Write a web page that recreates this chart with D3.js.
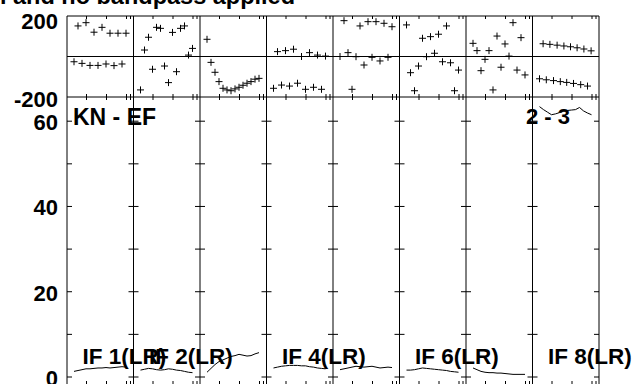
<!DOCTYPE html>
<html>
<head>
<meta charset="utf-8">
<script src="https://cdn.jsdelivr.net/npm/d3@7"></script>
<style>
  html, body { margin: 0; padding: 0; background: #fff; }
  svg { display: block; }
  text { font-family: "Liberation Sans", Arial, Helvetica, sans-serif; font-weight: bold; fill: #000; }
</style>
</head>
<body>
<svg id="chart" width="636" height="384"></svg>
<script>
// ---- data -------------------------------------------------------------
const titleText = "l and no bandpass applied";
const baselineLeft = "KN - EF";
const baselineRight = "2 - 3";
const ifLabels = ["IF 1(LR)", "IF 2(LR)", "IF 3(LR)", "IF 4(LR)", "IF 5(LR)", "IF 6(LR)", "IF 7(LR)", "IF 8(LR)"];
const labelledIFs = [0, 1, 3, 5, 7];

const phaseTickLabels = [200, -200];
const ampTickValues = [0, 10, 20, 30, 40, 50, 60];
const ampTickLabels = [0, 20, 40, 60];
const chanTickValues = [5, 10, 15, 16];

// channel numbers shared by the spectra
const channels = [2, 3, 4, 5, 6, 7, 8, 9, 10, 11, 12, 13, 14, 15];

// phase (degrees) per channel, one list per IF
const phaseIF1 = [-26, 151, -34, 167, -44, 120, -44, 144, -37, 115, -45, 115, -37, 115];
const phaseIF2 = [-165, 32, 95, -63, 144, 139, -47, -129, 119, -75, 139, 151, 7, 40];
const phaseIF3 = [85, -29, -78, -124, -157, -165, -169, -160, -152, -142, -132, -124, -112, -108];
const phaseIF4 = [-157, 24, -141, 29, -146, 36, -132, 0, -162, 19, -152, 7, -162, 2];
const phaseIF5 = [0, 177, 19, -162, -1, 151, -42, 172, -4, 172, -22, 164, -4, 147];
const phaseIF6 = [156, -80, -169, -47, 90, -1, 98, 16, 110, -26, 151, -31, -169, -67];
const phaseIF7 = [65, 29, -70, -14, 29, -165, 101, -53, 62, 2, 167, -67, 93, -91];
// IF 8 is sampled on its own channel grid
const channelsIF8 = [2, 2.9, 3.7, 4.6, 5.5, 6.4, 7.2, 8.1, 8.8, 9.75, 10.5, 11.4, 12.3, 13.1, 14, 14.9];
const phaseIF8 = [-110, 63, -115, 60, -119, 56, -124, 52, -128, 48, -133, 43, -139, 37, -146, 28];

// amplitude per channel, one list per IF
const ampIF1 = [1.2, 1.4, 1.6, 1.8, 1.8, 1.9, 2.0, 2.0, 2.1, 2.0, 2.1, 2.2, 2.3, 2.2];
const ampIF2 = [1.5, 1.7, 1.9, 1.8, 1.6, 1.5, 1.6, 1.8, 1.7, 1.5, 1.4, 1.2, 1.0, 0.9];
const ampIF3 = [1.0, 1.9, 2.8, 3.5, 3.9, 4.3, 4.7, 4.9, 5.2, 5.0, 4.8, 4.9, 5.3, 5.6];
const ampIF4 = [2.0, 2.2, 2.4, 2.5, 2.6, 2.6, 2.6, 2.5, 2.5, 2.3, 2.2, 2.0, 1.9, 1.8];
const ampIF5 = [1.6, 1.8, 2.0, 2.2, 2.4, 2.3, 2.2, 2.3, 2.4, 2.2, 2.0, 2.1, 2.2, 2.1];
const ampIF6 = [1.5, 1.5, 1.6, 1.8, 2.0, 1.9, 1.8, 1.7, 1.6, 1.5, 1.4, 1.2, 1.1, 1.0];
const ampIF7 = [2.0, 1.6, 1.2, 1.0, 0.9, 0.9, 0.8, 0.8, 0.7, 0.6, 0.5, 0.5, 0.5, 0.5];
const ampIF8 = [63.3, 62.6, 62.0, 61.4, 61.6, 61.9, 62.2, 62.4, 62.5, 62.6, 63.1, 62.3, 61.8, 61.4];

const phaseSets = [phaseIF1, phaseIF2, phaseIF3, phaseIF4, phaseIF5, phaseIF6, phaseIF7, phaseIF8];
const ampSets = [ampIF1, ampIF2, ampIF3, ampIF4, ampIF5, ampIF6, ampIF7, ampIF8];

// ---- layout -----------------------------------------------------------
const plotLeft = 67, colW = 66.5, nIF = ifLabels.length;
const plotRight = plotLeft + colW * nIF;
const phTop = 16, phBot = 97, ampTop = 97, ampBot = 385;
const chanDomain = [0.25, 16.875];

const svg = d3.select("#chart");

const yPhase = d3.scaleLinear().domain([-200, 200]).range([phBot, phTop]);
const yAmp = d3.scaleLinear().domain([0, 60]).range([376.5, 120.7]);

// title (partly above the top edge)
svg.append("text")
  .attr("x", 295).attr("y", 4)
  .attr("text-anchor", "end")
  .style("font-size", "23.5px")
  .text(titleText);

const frame = svg.append("g").attr("stroke", "#000").attr("stroke-width", 1).attr("fill", "none");

// horizontal frame lines: phase top, phase zero, panel divider, amplitude bottom
[phTop, yPhase(0), phBot, ampBot].forEach(y => {
  frame.append("line").attr("x1", plotLeft).attr("x2", plotRight).attr("y1", y).attr("y2", y);
});
// vertical IF boundaries
d3.range(nIF + 1).forEach(i => {
  const x = plotLeft + i * colW;
  frame.append("line").attr("x1", x).attr("x2", x).attr("y1", phTop).attr("y2", ampBot);
});

function styleTicks(g) {
  g.select(".domain").remove();
  g.selectAll(".tick line").attr("stroke", "#000");
}

// per-IF panels
phaseSets.forEach((phases, i) => {
  const L = plotLeft + i * colW, R = L + colW;
  const x = d3.scaleLinear().domain(chanDomain).range([L, R]);
  const chans = i === 7 ? channelsIF8 : channels;
  const g = svg.append("g");

  // channel ticks on every horizontal edge, pointing inwards
  g.append("g").attr("transform", `translate(0,${phTop})`)
    .call(d3.axisBottom(x).tickValues(chanTickValues).tickSize(3).tickFormat("")).call(styleTicks);
  g.append("g").attr("transform", `translate(0,${phBot})`)
    .call(d3.axisTop(x).tickValues(chanTickValues).tickSize(3).tickFormat("")).call(styleTicks);
  g.append("g").attr("transform", `translate(0,${ampTop})`)
    .call(d3.axisBottom(x).tickValues(chanTickValues).tickSize(3).tickFormat("")).call(styleTicks);
  g.append("g").attr("transform", `translate(0,${ampBot})`)
    .call(d3.axisTop(x).tickValues(chanTickValues).tickSize(4).tickFormat("")).call(styleTicks);

  // amplitude ticks on both side edges, pointing inwards
  g.append("g").attr("transform", `translate(${L},0)`)
    .call(d3.axisRight(yAmp).tickValues(ampTickValues).tickSize(5).tickFormat("")).call(styleTicks);
  g.append("g").attr("transform", `translate(${R},0)`)
    .call(d3.axisLeft(yAmp).tickValues(ampTickValues).tickSize(5).tickFormat("")).call(styleTicks);

  // phase crosses
  const pts = phases.map((p, k) => [x(chans[k]), yPhase(p)]);
  g.append("path")
    .attr("fill", "none").attr("stroke", "#000").attr("stroke-width", 1)
    .attr("d", pts.map(([px, py]) => `M${px - 3.5},${py}h7M${px},${py - 3.5}v7`).join(""));

  // amplitude spectrum
  const line = d3.line().x((d, k) => x(channels[k])).y(d => yAmp(d));
  g.append("path")
    .attr("fill", "none").attr("stroke", "#000").attr("stroke-width", 1)
    .attr("d", line(ampSets[i]));
});

// IF labels
labelledIFs.forEach(i => {
  svg.append("text")
    .attr("x", plotLeft + i * colW + 15.5).attr("y", 364)
    .style("font-size", "22.5px")
    .text(ifLabels[i]);
});

// baseline labels
svg.append("text").attr("x", 73).attr("y", 124.5).style("font-size", "23px").text(baselineLeft);
svg.append("text").attr("x", 526).attr("y", 123.5).style("font-size", "22px").text(baselineRight);

// value axes on the left (plain hyphen for negative numbers)
const plainNumber = d => String(d);

const phAxis = svg.append("g").attr("transform", `translate(${plotLeft},0)`)
  .call(d3.axisLeft(yPhase).tickValues(phaseTickLabels).tickSize(0).tickPadding(9).tickFormat(plainNumber));
phAxis.select(".domain").remove();
phAxis.selectAll("text").attr("dy", "0.41em").style("font-size", "22px")
  .attr("fill", null)
  .filter(d => d === 200).attr("dy", "0.55em");

const ampAxis = svg.append("g").attr("transform", `translate(${plotLeft},0)`)
  .call(d3.axisLeft(yAmp).tickValues(ampTickLabels).tickSize(0).tickPadding(9).tickFormat(plainNumber));
ampAxis.select(".domain").remove();
ampAxis.selectAll("text").attr("dy", "0.41em").style("font-size", "22px")
  .attr("fill", null);
[phAxis, ampAxis].forEach(a => a.attr("font-size", null).attr("font-family", null));
</script>
</body>
</html>
